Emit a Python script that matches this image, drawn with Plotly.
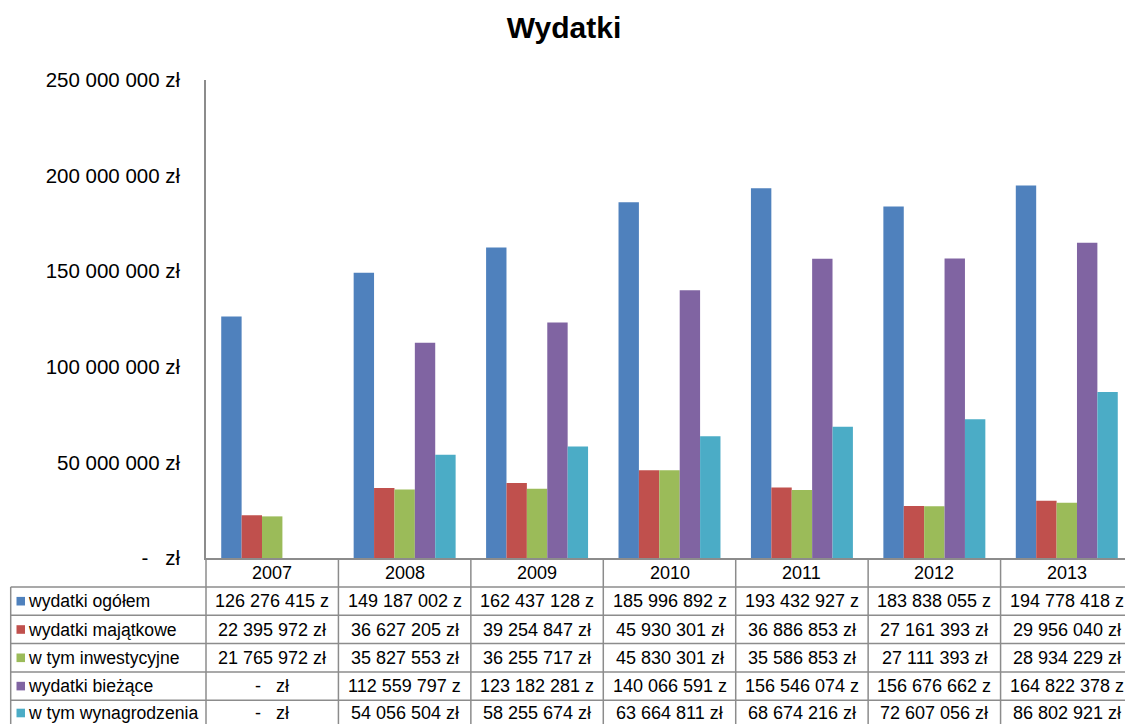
import plotly.graph_objects as go

# ---- data ----
years = ["2007", "2008", "2009", "2010", "2011", "2012", "2013"]
series_names = ["wydatki ogółem", "wydatki majątkowe", "w tym inwestycyjne",
                "wydatki bieżące", "w tym wynagrodzenia"]
wydatki_ogolem = [126276415, 149187002, 162437128, 185996892, 193432927, 183838055, 194778418]
wydatki_majatkowe = [22395972, 36627205, 39254847, 45930301, 36886853, 27161393, 29956040]
w_tym_inwestycyjne = [21765972, 35827553, 36255717, 45830301, 35586853, 27111393, 28934229]
wydatki_biezace = [0, 112559797, 123182281, 140066591, 156546074, 156676662, 164822378]
w_tym_wynagrodzenia = [0, 54056504, 58255674, 63664811, 68674216, 72607056, 86802921]
series_values = [wydatki_ogolem, wydatki_majatkowe, w_tym_inwestycyjne,
                 wydatki_biezace, w_tym_wynagrodzenia]
colors = ["#4F81BD", "#C0504D", "#9BBB59", "#8064A2", "#4BACC6"]
y_tickvals = [0, 50000000, 100000000, 150000000, 200000000, 250000000]
y_ticktext = ["-\u00a0\u00a0\u00a0zł", "50 000 000 zł", "100 000 000 zł",
              "150 000 000 zł", "200 000 000 zł", "250 000 000 zł"]

# The page body has an 8px margin, so the figure is drawn 8px smaller
# and all reference pixel positions are shifted by OFF.
OFF = 8
REF_W, REF_H = 1133, 724
W, H = REF_W - OFF, REF_H - OFF
REF_L, REF_T, REF_AXIS = 206, 80, 558
L, T = REF_L - OFF, REF_T - OFF
B = H - (REF_AXIS - OFF)
R = 0
plot_w = W - L - R
plot_h = H - T - B
FONT = "Liberation Sans, Arial, sans-serif"
GRID = "#8C8C8C"
TFS = 18  # table font size


def ppx(p):  # reference pixel x -> paper
    return (p - REF_L) / plot_w


def ppy(p):  # reference pixel y -> paper
    return (REF_AXIS - p) / plot_h


def cell_text(v):
    if v == 0:
        return "-\u00a0\u00a0\u00a0zł"
    s = f"{v:,}".replace(",", " ")
    return s + (" z" if v >= 100000000 else " zł")


fig = go.Figure()
for name, vals, col in zip(series_names, series_values, colors):
    fig.add_trace(go.Bar(x=years, y=vals, name=name,
                         marker=dict(color=col, line=dict(width=0))))

# ---- table geometry (reference pixels) ----
row_lines = [587, 615.3, 643.6, 671.9, 700.2]
row_centers = [601.2, 629.5, 657.8, 686.1, 713.0]
header_center = 572.8
left_edge = 10.7

shapes = []
for yl in row_lines:
    shapes.append(dict(type="line", xref="paper", yref="paper",
                       x0=ppx(left_edge), x1=1.0, y0=ppy(yl), y1=ppy(yl),
                       line=dict(color=GRID, width=1.5)))
shapes.append(dict(type="line", xref="paper", yref="paper",
                   x0=ppx(left_edge), x1=ppx(left_edge), y0=ppy(row_lines[0]), y1=ppy(REF_H + 2),
                   line=dict(color=GRID, width=1.5)))
shapes.append(dict(type="line", xref="paper", yref="paper",
                   x0=0, x1=0, y0=ppy(REF_AXIS), y1=ppy(REF_H + 2),
                   line=dict(color=GRID, width=1.5)))
for k in range(1, len(years)):
    shapes.append(dict(type="line", xref="x", yref="paper",
                       x0=k - 0.5, x1=k - 0.5, y0=ppy(REF_AXIS), y1=ppy(REF_H + 2),
                       line=dict(color=GRID, width=1.5)))
for i, col in enumerate(colors):
    yc = row_centers[i]
    shapes.append(dict(type="rect", xref="paper", yref="paper",
                       x0=ppx(16.5), x1=ppx(25), y0=ppy(yc + 4.3), y1=ppy(yc - 4.3),
                       fillcolor=col, line=dict(width=0)))

annotations = []
for j, yr in enumerate(years):
    annotations.append(dict(x=j, y=ppy(header_center), xref="x", yref="paper",
                            text=yr, showarrow=False, xanchor="center", yanchor="middle",
                            font=dict(family=FONT, size=TFS, color="black")))
for i, (name, vals) in enumerate(zip(series_names, series_values)):
    yc = ppy(row_centers[i])
    annotations.append(dict(x=ppx(25.5), y=yc, xref="paper", yref="paper",
                            text=name, showarrow=False, xanchor="left", yanchor="middle",
                            font=dict(family=FONT, size=17.6, color="black")))
    for j, v in enumerate(vals):
        annotations.append(dict(x=j, y=yc, xref="x", yref="paper",
                                text=cell_text(v), showarrow=False,
                                xanchor="center", yanchor="middle",
                                font=dict(family=FONT, size=TFS, color="black")))

fig.update_layout(
    width=W, height=H,
    margin=dict(l=L, r=R, t=T, b=B, pad=0),
    paper_bgcolor="white", plot_bgcolor="white",
    barmode="group", bargap=0.23, bargroupgap=0,
    showlegend=False,
    title=dict(text="<b>Wydatki</b>", x=(564 - OFF) / W, xref="container", xanchor="center",
               y=1 - (27 - OFF) / H, yref="container", yanchor="middle",
               font=dict(family=FONT, size=30, color="black")),
    font=dict(family=FONT, color="black"),
    xaxis=dict(type="category", showticklabels=False, ticks="", showgrid=False,
               showline=True, linecolor=GRID, linewidth=1.5, zeroline=False,
               range=[-0.5, len(years) - 0.5]),
    yaxis=dict(range=[0, 250000000], tickvals=y_tickvals, ticktext=y_ticktext,
               showgrid=False, zeroline=False, showline=True, linecolor=GRID,
               linewidth=1.5, ticks="", ticklabelstandoff=20,
               tickfont=dict(family=FONT, size=20.5, color="black")),
    shapes=shapes,
    annotations=annotations,
)

fig.write_html("out.html")
